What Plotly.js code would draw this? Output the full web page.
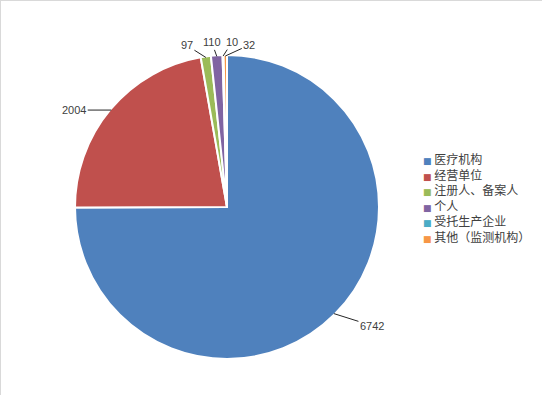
<!DOCTYPE html>
<html>
<head>
<meta charset="utf-8">
<script src="https://cdn.plot.ly/plotly-3.0.1.min.js"></script>
<style>
html,body{margin:0;padding:0;background:#fff;}
#chart{width:541px;height:394px;border-left:1px solid #d9d9d9;border-top:1px solid #d9d9d9;}
</style>
</head>
<body>
<div id="chart"></div>
<script>
const categories = ['医疗机构', '经营单位', '注册人、备案人', '个人', '受托生产企业', '其他（监测机构）'];
const values = [6742, 2004, 97, 110, 10, 32];
const colors = ['#4F81BD', '#C0504D', '#9BBB59', '#8064A2', '#4BACC6', '#F79646'];
// label offsets (pixels) from the slice edge point, for text placement
const labelOffsets = [[38, 12], [-37, 0], [-19, -12], [-5, -14], [9, -14], [24, -11]];

const W = 541, H = 394;
const cx = 226, cy = 206, R = 151;
const domR = 152;
const domX = [(cx - domR) / W, (cx + domR) / W];
const domY = [1 - (cy + domR) / H, 1 - (cy - domR) / H];

const total = values.reduce((a, b) => a + b, 0);
let cum = 0;
const annotations = values.map((v, i) => {
  const mid = (cum + v / 2) / total * 2 * Math.PI;
  cum += v;
  const px = cx + R * Math.sin(mid);
  const py = cy - R * Math.cos(mid);
  return {
    xref: 'paper', yref: 'paper',
    x: px / W, y: 1 - py / H,
    text: String(v),
    showarrow: true, arrowhead: 0, arrowwidth: 1, arrowcolor: '#262626',
    standoff: 0,
    ax: labelOffsets[i][0], ay: labelOffsets[i][1],
    font: {family: '"Liberation Sans", Arial, sans-serif', size: 11, color: '#404040'}
  };
});

// legend drawn as one text block (colored square glyph + category name per line)
const legX = 420, legYc = 196.5;
annotations.push({
  xref: 'paper', yref: 'paper',
  x: legX / W, y: 1 - legYc / H,
  xanchor: 'left', yanchor: 'middle',
  showarrow: false, align: 'left',
  text: categories.map((c, i) =>
    '<span style="color:' + colors[i] + ';font-size:9px;font-family:DejaVu Sans">■</span> ' + c
  ).join('<br>'),
  font: {family: '"Noto Sans CJK SC", sans-serif', size: 12, color: '#404040'}
});

const trace = {
  type: 'pie',
  labels: categories,
  values: values,
  sort: false,
  direction: 'clockwise',
  rotation: 0,
  textinfo: 'none',
  hoverinfo: 'label+value',
  marker: {colors: colors, line: {color: '#ffffff', width: 2}},
  domain: {x: domX, y: domY}
};

const layout = {
  width: W, height: H,
  margin: {l: 0, r: 0, t: 0, b: 0},
  paper_bgcolor: '#ffffff',
  showlegend: false,
  annotations: annotations
};

Plotly.newPlot('chart', [trace], layout, {displayModeBar: false, staticPlot: true});
</script>
</body>
</html>
